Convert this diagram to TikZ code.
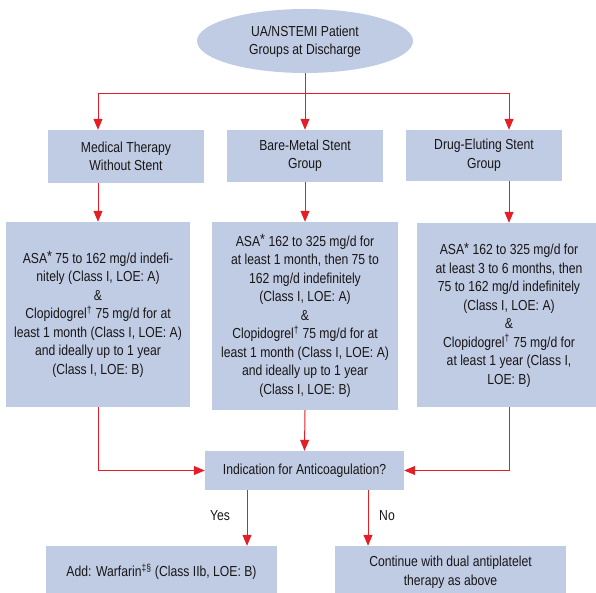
\documentclass[tikz,border=0pt]{standalone}
\usepackage{fontspec}
\setmainfont{Liberation Sans}[FakeStretch=0.84]
\usetikzlibrary{arrows.meta,shapes.geometric}
\definecolor{boxfill}{RGB}{192,204,228}
\definecolor{flowred}{RGB}{228,30,38}
\definecolor{ink}{RGB}{25,22,23}
% raised asterisk used after "ASA"
\newcommand{\asamark}{\raisebox{0.2ex}{\fontsize{15}{15}\selectfont *}}

\begin{document}
\begin{tikzpicture}[x=1pt,y=-1pt,
  every node/.style={text=ink, font=\fontsize{14.5}{18.5}\selectfont},
  box/.style={fill=boxfill, draw=none, inner sep=0pt, align=center},
  flow/.style={draw=flowred, line width=1pt, -{Triangle[length=11pt,width=9pt]}},
  lbl/.style={inner sep=0pt}]
\useasboundingbox (0,0) rectangle (596,593);

% start
\node[box, ellipse, minimum width=216pt, minimum height=64pt] (top) at (305,41)
  {\rule{0pt}{12pt}UA/NSTEMI Patient\\Groups at Discharge};

% patient groups
\node[box, minimum width=156pt, minimum height=53pt] (med) at (126,156.5)
  {Medical Therapy\\Without Stent};
\node[box, minimum width=156pt, minimum height=52pt] (bms) at (305,156)
  {Bare-Metal Stent\\Group};
\node[box, minimum width=156pt, minimum height=51pt] (des) at (484,155.5)
  {Drug-Eluting Stent\\Group};

% antiplatelet regimens
\node[box, minimum width=184pt, minimum height=185pt] (lb) at (98,314.5)
  {ASA\asamark{} 75 to 162 mg/d indefi-\\
   nitely (Class I, LOE: A)\\
   \&\\
   Clopidogrel\textsuperscript{\textdagger} 75 mg/d for at\\
   least 1 month (Class I, LOE: A)\\
   and ideally up to 1 year\\
   (Class I, LOE: B)};
\node[box, minimum width=186pt, minimum height=188pt] (mb) at (305,316)
  {ASA\asamark{} 162 to 325 mg/d for\\
   at least 1 month, then 75 to\\
   162 mg/d indefinitely\\
   (Class I, LOE: A)\\
   \&\\
   Clopidogrel\textsuperscript{\textdagger} 75 mg/d for at\\
   least 1 month (Class I, LOE: A)\\
   and ideally up to 1 year\\
   (Class I, LOE: B)};
\node[box, minimum width=184pt, minimum height=184pt] (rb) at (509,315)
  {ASA\asamark{} 162 to 325 mg/d for\\
   at least 3 to 6 months, then\\
   75 to 162 mg/d indefinitely\\
   (Class I, LOE: A)\\
   \&\\
   Clopidogrel\textsuperscript{\textdagger} 75 mg/d for\\
   at least 1 year (Class I,\\
   LOE: B)};

% decision
\node[box, minimum width=199pt, minimum height=39pt] (ind) at (304.5,470.5)
  {Indication for Anticoagulation?};

% outcomes
\node[box, minimum width=231pt, minimum height=52pt] (addw) at (161.5,572)
  {Add: Warfarin\textsuperscript{\textdaggerdbl\S} (Class IIb, LOE: B)};
\node[box, minimum width=231pt, minimum height=52pt] (cont) at (450.5,572)
  {Continue with dual antiplatelet\\therapy as above};

% branch point below the start
\coordinate (split) at (305,93.3);

% connectors
\draw[flow] (top.south) -- (bms.north);
\draw[flow] (split) -| (lb.north |- med.north);
\draw[flow] (split) -| (rb.north |- des.north);

\draw[flow] (lb.north |- med.south) -- (lb.north);
\draw[flow] (bms.south) -- (mb.north);
\draw[flow] (rb.north |- des.south) -- (rb.north);

\draw[flow] (lb.south) |- (ind.west);
\draw[flow] (mb.south) -- (ind.north);
\draw[flow] (rb.south) |- (ind.east);

\draw[flow] ([xshift=-57.5pt]ind.south) -- ([xshift=-57.5pt]ind.south |- addw.north);
\draw[flow] ([xshift=63.5pt]ind.south) -- ([xshift=63.5pt]ind.south |- cont.north);

\node[lbl] (yes) at (220,516) {Yes};
\node[lbl] (no) at (387,516) {No};
\end{tikzpicture}
\end{document}
